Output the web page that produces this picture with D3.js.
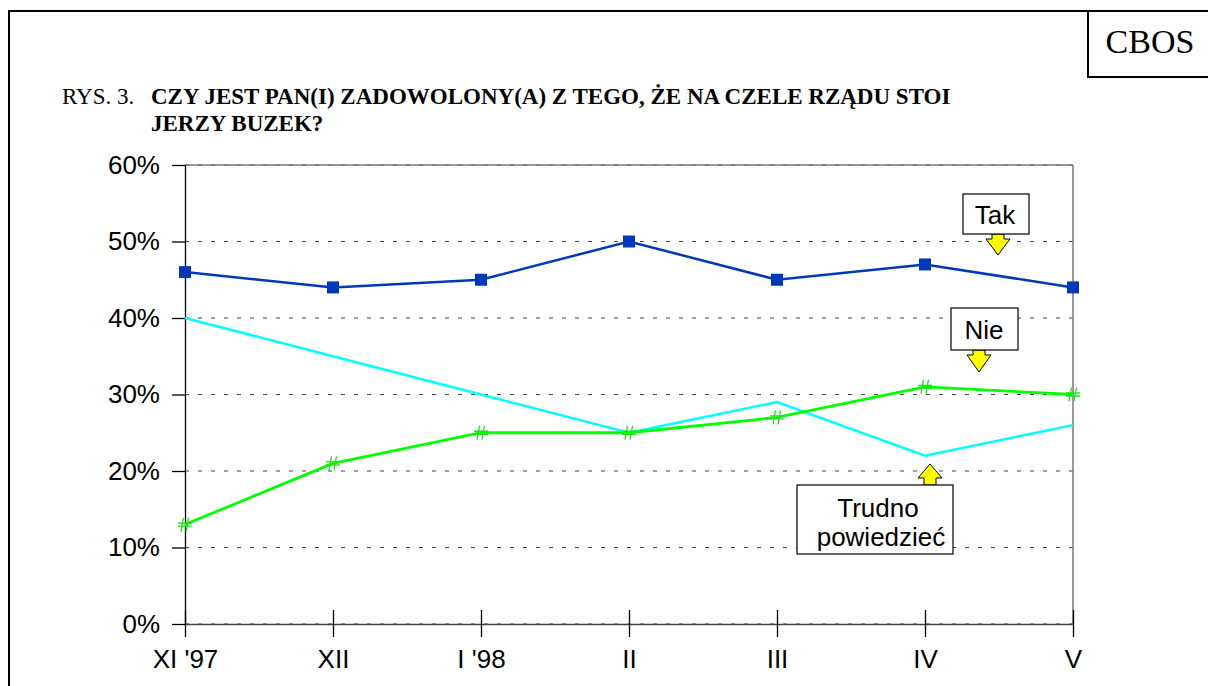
<!DOCTYPE html>
<html>
<head>
<meta charset="utf-8">
<script src="https://cdn.jsdelivr.net/npm/d3@7"></script>
<style>
  body { margin: 0; background: #fff; }
  svg text { font-family: Arial, "Liberation Sans", sans-serif; }
  .serif { font-family: "Times New Roman", "Liberation Serif", serif !important; }
</style>
</head>
<body>
<svg id="chart" width="1208" height="686"></svg>
<script>
// data
var months = ["XI '97", "XII", "I '98", "II", "III", "IV", "V"];
var tak = [46, 44, 45, 50, 45, 47, 44];
var nie = [13, 21, 25, 25, 27, 31, 30];
var trudno = [40, 35, 30, 25, 29, 22, 26];
var yTicks = [0, 10, 20, 30, 40, 50, 60];

var svg = d3.select('#chart');

// page frame
svg.append('path').attr('d', 'M9,686 V11 H1208')
  .attr('fill', 'none').attr('stroke', '#000').attr('stroke-width', 2);
svg.append('rect').attr('x', 1088).attr('y', 11).attr('width', 130).attr('height', 66)
  .attr('fill', '#fff').attr('stroke', '#000').attr('stroke-width', 2);
svg.append('text').attr('class', 'serif').attr('x', 1150).attr('y', 53)
  .attr('text-anchor', 'middle').style('font-size', '34px').text('CBOS');

// title
svg.append('text').attr('class', 'serif').attr('x', 62).attr('y', 104)
  .style('font-size', '23px').text('RYS. 3.');
var title = svg.append('text').attr('class', 'serif')
  .style('font-size', '23px').style('font-weight', 'bold');
title.append('tspan').attr('x', 151).attr('y', 104)
  .text('CZY JEST PAN(I) ZADOWOLONY(A) Z TEGO, ŻE NA CZELE RZĄDU STOI');
title.append('tspan').attr('x', 151).attr('y', 131).text('JERZY BUZEK?');

// scales
var scaleX = d3.scalePoint().domain(months).range([185, 1073]);
var scaleY = d3.scaleLinear().domain([0, 60]).range([624, 165]);

// dashed grid
svg.append('g').selectAll('line').data(yTicks).enter().append('line')
  .attr('x1', 185).attr('x2', 1073)
  .attr('y1', function(d) { return scaleY(d); })
  .attr('y2', function(d) { return scaleY(d); })
  .attr('stroke', '#444').attr('stroke-width', 1.2)
  .attr('stroke-dasharray', '4,9');
svg.append('line').attr('x1', 185).attr('x2', 1073)
  .attr('y1', scaleY(60)).attr('y2', scaleY(60))
  .attr('stroke', '#777').attr('stroke-width', 1.5);
svg.append('line').attr('x1', 1073).attr('x2', 1073)
  .attr('y1', scaleY(60)).attr('y2', scaleY(0))
  .attr('stroke', '#777').attr('stroke-width', 1.5);

// axes
var axisY = d3.axisLeft(scaleY).tickValues(yTicks)
  .tickFormat(function(d) { return d + '%'; }).tickSize(13).tickSizeOuter(0).tickPadding(12);
var gy = svg.append('g').attr('transform', 'translate(185,0)').call(axisY);
gy.attr('font-family', null).attr('font-size', null);
gy.select('.domain').attr('stroke', '#000').attr('stroke-width', 1.3);
gy.selectAll('line').attr('stroke', '#000').attr('stroke-width', 1.3);
gy.selectAll('text').style('font-size', '26px').attr('fill', '#000');

var axisX = d3.axisBottom(scaleX).tickSize(13).tickSizeOuter(0).tickPadding(13);
var gx = svg.append('g').attr('transform', 'translate(0,624)').call(axisX);
gx.attr('font-family', null).attr('font-size', null);
gx.select('.domain').attr('stroke', '#444').attr('stroke-width', 1.5);
gx.selectAll('.tick line').attr('y1', -14).attr('stroke', '#000').attr('stroke-width', 1.3);
gx.selectAll('text').style('font-size', '26px').attr('fill', '#000');

// lines
var line = function(vals) {
  return d3.line()
    .x(function(d, i) { return scaleX(months[i]); })
    .y(function(d) { return scaleY(d); })(vals);
};
svg.append('path').attr('d', line(trudno)).attr('fill', 'none')
  .attr('stroke', '#00ffff').attr('stroke-width', 2.5);
svg.append('path').attr('d', line(nie)).attr('fill', 'none')
  .attr('stroke', '#00ff00').attr('stroke-width', 2.8);
svg.append('path').attr('d', line(tak)).attr('fill', 'none')
  .attr('stroke', '#0039b8').attr('stroke-width', 2.5);

// markers
svg.append('g').selectAll('rect').data(tak).enter().append('rect')
  .attr('x', function(d, i) { return scaleX(months[i]) - 6; })
  .attr('y', function(d) { return scaleY(d) - 6; })
  .attr('width', 12).attr('height', 12).attr('fill', '#0039b8');
var hashPath = 'M-1.5,-7 L-4,7 M3.5,-7 L1,7 M-7,-1.5 H7 M-7,1.5 H7';
svg.append('g').selectAll('path').data(nie).enter().append('path')
  .attr('transform', function(d, i) {
    return 'translate(' + scaleX(months[i]) + ',' + scaleY(d) + ')';
  })
  .attr('d', hashPath).attr('fill', 'none')
  .attr('stroke', '#22dd22').attr('stroke-width', 1.3);

// callouts
function arrowDown(cx, top, bottom) {
  return 'M' + (cx - 6) + ',' + top + ' H' + (cx + 6) + ' V' + (top + 5) +
    ' H' + (cx + 12) + ' L' + cx + ',' + bottom + ' L' + (cx - 12) + ',' + (top + 5) +
    ' H' + (cx - 6) + ' Z';
}
function arrowUp(cx, bottom, top) {
  return 'M' + (cx - 6) + ',' + bottom + ' H' + (cx + 6) + ' V' + (bottom - 7) +
    ' H' + (cx + 12) + ' L' + cx + ',' + top + ' L' + (cx - 12) + ',' + (bottom - 7) +
    ' H' + (cx - 6) + ' Z';
}
var callG = svg.append('g');
callG.append('path').attr('d', arrowDown(998, 234, 255))
  .attr('fill', '#ffff00').attr('stroke', '#000').attr('stroke-width', 1);
callG.append('rect').attr('x', 963).attr('y', 194).attr('width', 66).attr('height', 40)
  .attr('fill', '#fff').attr('stroke', '#000').attr('stroke-width', 1.2);
callG.append('text').attr('x', 995).attr('y', 224).attr('text-anchor', 'middle')
  .style('font-size', '26px').text('Tak');

callG.append('path').attr('d', arrowDown(979, 350, 372))
  .attr('fill', '#ffff00').attr('stroke', '#000').attr('stroke-width', 1);
callG.append('rect').attr('x', 951).attr('y', 308).attr('width', 67).attr('height', 42)
  .attr('fill', '#fff').attr('stroke', '#000').attr('stroke-width', 1.2);
callG.append('text').attr('x', 984).attr('y', 339).attr('text-anchor', 'middle')
  .style('font-size', '26px').text('Nie');

callG.append('path').attr('d', arrowUp(930, 485, 464))
  .attr('fill', '#ffff00').attr('stroke', '#000').attr('stroke-width', 1);
callG.append('rect').attr('x', 797).attr('y', 485).attr('width', 156).attr('height', 69)
  .attr('fill', '#fff').attr('stroke', '#000').attr('stroke-width', 1.2);
callG.append('text').attr('x', 878).attr('y', 517).attr('text-anchor', 'middle')
  .style('font-size', '26px').text('Trudno');
callG.append('text').attr('x', 881).attr('y', 546).attr('text-anchor', 'middle')
  .style('font-size', '26px').text('powiedzieć');
</script>
</body>
</html>
